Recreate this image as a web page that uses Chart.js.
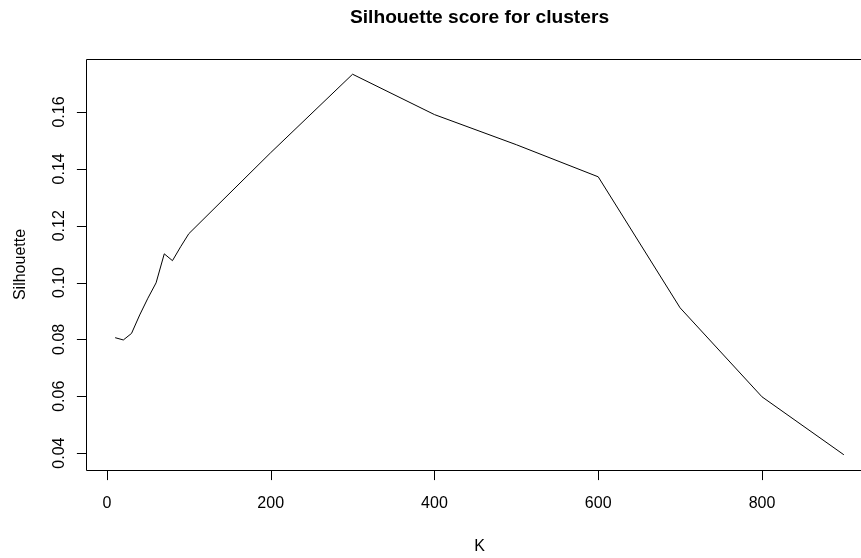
<!DOCTYPE html>
<html>
<head>
<meta charset="utf-8">
<script src="https://cdn.jsdelivr.net/npm/chart.js@4/dist/chart.umd.min.js"></script>
<style>
  html, body { margin: 0; padding: 0; background: #fff; overflow: hidden; }
  #wrap { width: 880px; height: 558px; }
</style>
</head>
<body>
<div id="wrap"><canvas id="c" width="880" height="558"></canvas></div>
<script>
// Number of clusters tried
const kValues = [10, 20, 30, 40, 50, 60, 70, 80, 90, 100, 200, 300, 400, 500, 600, 700, 800, 900];
// Mean silhouette width for each K
const silhouette = [0.0806, 0.0798, 0.0821, 0.0886, 0.0945, 0.0999, 0.1101, 0.1077, 0.1126, 0.1172,
                    0.1457, 0.1733, 0.1591, 0.1485, 0.1372, 0.0911, 0.0598, 0.0394];
// Axis tick marks
const xTicks = [0, 200, 400, 600, 800];
const yTicks = [0.04, 0.06, 0.08, 0.10, 0.12, 0.14, 0.16];
const yTickLabels = ['0.04', '0.06', '0.08', '0.10', '0.12', '0.14', '0.16'];

const chartTitle = 'Silhouette score for clusters';
const xTitle = 'K';
const yTitle = 'Silhouette';

// Axis limits padded by 4% of the data range on each side
function padRange(vals) {
  const lo = Math.min(...vals), hi = Math.max(...vals);
  const ext = (hi - lo) * 0.04;
  return [lo - ext, hi + ext];
}
const [xMin, xMax] = padRange(kValues);
const [yMin, yMax] = padRange(silhouette);

const FONT = '"Liberation Sans", Arial, sans-serif';

const baseAxes = {
  id: 'baseAxes',
  afterDraw(chart) {
    const { ctx, chartArea: a, scales: { x, y } } = chart;
    const snap = v => Math.round(v) + 0.5;
    const tick = 9.6;
    ctx.save();
    ctx.strokeStyle = '#000';
    ctx.lineWidth = 1;

    // Plot box
    ctx.beginPath();
    ctx.rect(snap(a.left), snap(a.top), Math.round(a.right) - Math.round(a.left), Math.round(a.bottom) - Math.round(a.top));
    ctx.stroke();

    // Bottom axis
    const by = snap(a.bottom);
    ctx.beginPath();
    ctx.moveTo(snap(x.getPixelForValue(xTicks[0])), by);
    ctx.lineTo(snap(x.getPixelForValue(xTicks[xTicks.length - 1])), by);
    xTicks.forEach(v => {
      const px = snap(x.getPixelForValue(v));
      ctx.moveTo(px, by);
      ctx.lineTo(px, by + tick);
    });
    ctx.stroke();

    // Left axis
    const lx = snap(a.left);
    ctx.beginPath();
    ctx.moveTo(lx, snap(y.getPixelForValue(yTicks[0])));
    ctx.lineTo(lx, snap(y.getPixelForValue(yTicks[yTicks.length - 1])));
    yTicks.forEach(v => {
      const py = snap(y.getPixelForValue(v));
      ctx.moveTo(lx, py);
      ctx.lineTo(lx - tick, py);
    });
    ctx.stroke();

    ctx.fillStyle = '#000';
    ctx.font = '16px ' + FONT;
    ctx.textAlign = 'center';
    ctx.textBaseline = 'alphabetic';
    xTicks.forEach(v => {
      ctx.fillText(String(v), x.getPixelForValue(v), 508);
    });
    yTicks.forEach((v, i) => {
      ctx.save();
      ctx.translate(63.5, y.getPixelForValue(v));
      ctx.rotate(-Math.PI / 2);
      ctx.fillText(yTickLabels[i], 0, 0);
      ctx.restore();
    });

    const cx = (a.left + a.right) / 2;
    ctx.fillText(xTitle, cx, 551);
    ctx.save();
    ctx.translate(25, (a.top + a.bottom) / 2);
    ctx.rotate(-Math.PI / 2);
    ctx.fillText(yTitle, 0, 0);
    ctx.restore();

    ctx.font = 'bold 19.2px ' + FONT;
    ctx.fillText(chartTitle, cx, 23);
    ctx.restore();
  }
};

new Chart(document.getElementById('c'), {
  type: 'line',
  data: {
    datasets: [{
      data: kValues.map((k, i) => ({ x: k, y: silhouette[i] })),
      borderColor: '#000',
      borderWidth: 1,
      pointRadius: 0,
      tension: 0,
      fill: false
    }]
  },
  options: {
    responsive: false,
    animation: false,
    devicePixelRatio: 1,
    layout: { padding: { left: 86, right: 7, top: 59, bottom: 88 } },
    scales: {
      x: { type: 'linear', min: xMin, max: xMax, display: false },
      y: { type: 'linear', min: yMin, max: yMax, display: false }
    },
    plugins: { legend: { display: false }, tooltip: { enabled: false }, title: { display: false } }
  },
  plugins: [baseAxes]
});
</script>
</body>
</html>
